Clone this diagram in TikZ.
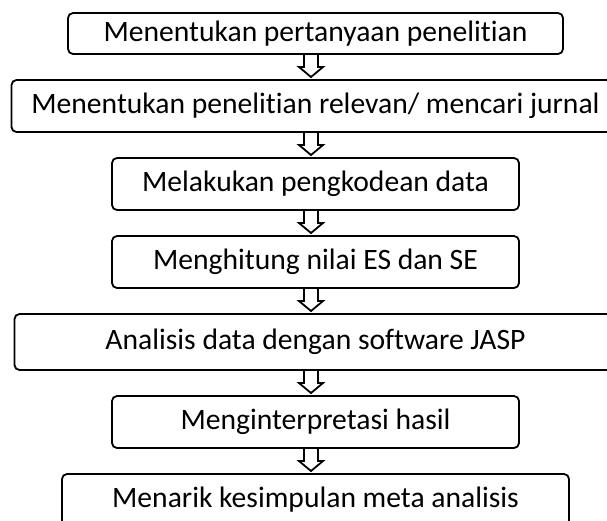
\documentclass[tikz,border=0pt]{standalone}
\usepackage{fontspec}
\setmainfont{Carlito}[Ligatures=NoCommon]
\usetikzlibrary{positioning,calc}
\tikzset{
  langkah/.style={draw,line width=1.8pt,rounded corners=5pt,minimum height=52pt,
    inner sep=0pt,outer sep=0pt,font=\fontsize{29.6}{34}\selectfont},
  panah/.style={draw,line width=1.8pt,line join=miter}
}
% 空心箭头: 从 #1 的下边到 #2 的上边
\newcommand{\panahblok}[2]{%
  \draw[panah] let \p1=(#1.south), \p2=(#2.north) in
    (\x1-11.5pt,\y1) -- (\x1+2.5pt,\y1) -- (\x1+2.5pt,\y2+13pt)
    -- (\x1+7.5pt,\y2+13pt) -- (\x1-4.5pt,\y2+3pt) -- (\x1-16.5pt,\y2+13pt)
    -- (\x1-11.5pt,\y2+13pt) -- cycle;}

\begin{document}
\begin{tikzpicture}[x=1pt,y=1pt,node distance=26pt]
  \useasboundingbox (0,0) rectangle (607,-520);
  \node[langkah,minimum width=495pt,minimum height=41pt] (L1) at (315.5,-33.5)
    {Menentukan pertanyaan penelitian};
  \node[langkah,minimum width=608pt,below=of L1] (L2)
    {Menentukan penelitian relevan/ mencari jurnal};
  \node[langkah,minimum width=407pt,below=of L2] (L3) {Melakukan pengkodean data};
  \node[langkah,minimum width=407pt,below=of L3] (L4) {Menghitung nilai ES dan SE};
  \node[langkah,minimum width=602pt,minimum height=56pt,below=of L4] (L5)
    {Analisis data dengan software JASP};
  \node[langkah,minimum width=407pt,below=of L5] (L6) {Menginterpretasi hasil};
  \node[langkah,minimum width=507pt,below=of L6] (L7) {Menarik kesimpulan meta analisis};
  % 箭头
  \panahblok{L1}{L2}
  \panahblok{L2}{L3}
  \panahblok{L3}{L4}
  \panahblok{L4}{L5}
  \panahblok{L5}{L6}
  \panahblok{L6}{L7}
\end{tikzpicture}
\end{document}
